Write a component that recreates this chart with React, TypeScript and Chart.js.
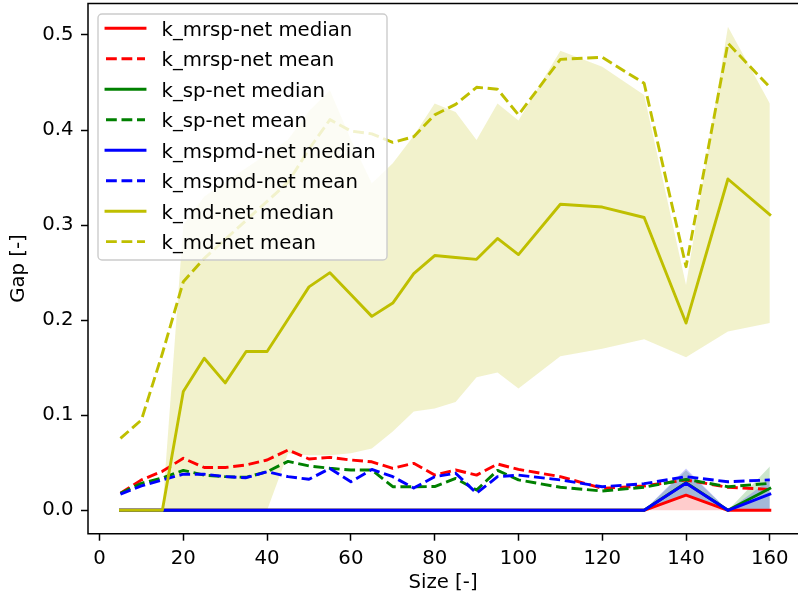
import React, { useEffect, useRef } from 'react';
import { Chart, registerables } from 'chart.js';

Chart.register(...registerables);

// ---------------- data ----------------
const sizes = [5, 10, 15, 20, 25, 30, 35, 40, 45, 50, 55, 60, 65, 70, 75, 80, 85, 90, 95, 100, 110, 120, 130, 140, 150, 160];

const mrspMedian = [0, 0, 0, 0, 0, 0, 0, 0, 0, 0, 0, 0, 0, 0, 0, 0, 0, 0, 0, 0, 0, 0, 0, 0.016, 0, 0];
const mrspMean = [0.018, 0.032, 0.041, 0.0547, 0.045, 0.045, 0.0477, 0.0529, 0.0634, 0.054, 0.0557, 0.0529, 0.051, 0.0442, 0.0494, 0.0371, 0.0424, 0.037, 0.0487, 0.043, 0.0354, 0.0231, 0.0256, 0.0319, 0.0242, 0.022];
const mrspLower = [0, 0, 0, 0, 0, 0, 0, 0, 0, 0, 0, 0, 0, 0, 0, 0, 0, 0, 0, 0, 0, 0, 0, 0, 0, 0];
const mrspUpper = [0, 0, 0, 0, 0, 0, 0, 0, 0, 0, 0, 0, 0, 0, 0, 0, 0, 0, 0, 0, 0, 0, 0, 0.017, 0, 0];

const spMedian = [0, 0, 0, 0, 0, 0, 0, 0, 0, 0, 0, 0, 0, 0, 0, 0, 0, 0, 0, 0, 0, 0, 0, 0.029, 0, 0.023];
const spMean = [0.018, 0.0284, 0.034, 0.042, 0.037, 0.0354, 0.0347, 0.0406, 0.0515, 0.0466, 0.0442, 0.0424, 0.0424, 0.0248, 0.0248, 0.025, 0.0335, 0.0214, 0.042, 0.032, 0.0242, 0.0203, 0.0242, 0.0326, 0.0248, 0.0284];
const spLower = [0, 0, 0, 0, 0, 0, 0, 0, 0, 0, 0, 0, 0, 0, 0, 0, 0, 0, 0, 0, 0, 0, 0, 0.016, 0, 0];
const spUpper = [0, 0, 0, 0, 0, 0, 0, 0, 0, 0, 0, 0, 0, 0, 0, 0, 0, 0, 0, 0, 0, 0, 0, 0.042, 0, 0.046];

const mspmdMedian = [0, 0, 0, 0, 0, 0, 0, 0, 0, 0, 0, 0, 0, 0, 0, 0, 0, 0, 0, 0, 0, 0, 0, 0.0284, 0, 0.017];
const mspmdMean = [0.017, 0.0256, 0.032, 0.038, 0.038, 0.0354, 0.0343, 0.0406, 0.0354, 0.0326, 0.044, 0.03, 0.043, 0.0354, 0.0234, 0.0354, 0.039, 0.018, 0.0354, 0.037, 0.032, 0.0248, 0.028, 0.0354, 0.03, 0.032];
const mspmdLower = [0, 0, 0, 0, 0, 0, 0, 0, 0, 0, 0, 0, 0, 0, 0, 0, 0, 0, 0, 0, 0, 0, 0, 0.016, 0, 0];
const mspmdUpper = [0, 0, 0, 0, 0, 0, 0, 0, 0, 0, 0, 0, 0, 0, 0, 0, 0, 0, 0, 0, 0, 0, 0, 0.044, 0, 0.032];

const mdMedian = [0, 0, 0, 0.125, 0.16, 0.134, 0.167, 0.167, 0.201, 0.235, 0.25, 0.227, 0.204, 0.218, 0.249, 0.268, 0.266, 0.264, 0.286, 0.269, 0.322, 0.319, 0.308, 0.197, 0.3485, 0.311];
const mdMean = [0.0757, 0.095, 0.165, 0.2405, 0.265, 0.285, 0.305, 0.325, 0.345, 0.38, 0.411, 0.399, 0.396, 0.387, 0.393, 0.416, 0.427, 0.445, 0.443, 0.416, 0.4744, 0.4765, 0.4492, 0.2563, 0.4913, 0.445];
const mdLower = [0, 0, 0, 0, 0, 0, 0, 0, 0.06, 0.058, 0.058, 0.06, 0.065, 0.083, 0.104, 0.107, 0.114, 0.14, 0.145, 0.128, 0.162, 0.17, 0.18, 0.161, 0.188, 0.197];
const mdUpper = [0, 0, 0, 0.3, 0.33, 0.345, 0.36, 0.375, 0.39, 0.42, 0.442, 0.39, 0.344, 0.365, 0.394, 0.428, 0.419, 0.3895, 0.428, 0.41, 0.4835, 0.4667, 0.4369, 0.237, 0.5087, 0.428];

const xTicks = [0, 20, 40, 60, 80, 100, 120, 140, 160];
const yTicks = [0, 0.1, 0.2, 0.3, 0.4, 0.5];

const legendLabels = [
  'k_mrsp-net median',
  'k_mrsp-net mean',
  'k_sp-net median',
  'k_sp-net mean',
  'k_mspmd-net median',
  'k_mspmd-net mean',
  'k_md-net median',
  'k_md-net mean',
];

// ---------------- styling ----------------
const W = 798;
const H = 603;
const FONT = "'DejaVu Sans'";
const FS = 19.7;
const LW = 2.9;
const DASH = [10.8, 4.7];
const RED = '#ff0000';
const GREEN = '#008000';
const BLUE = '#0000ff';
const YEL = '#bfbf00';
const legendColors = [RED, RED, GREEN, GREEN, BLUE, BLUE, YEL, YEL];

const PLOT_LEFT = 88;
const PLOT_TOP = 3.5;
const PLOT_BOTTOM = 533.7;

function pts(arr: number[]) {
  return sizes.map((x, i) => ({ x, y: arr[i] }));
}

function lineDs(label: string, arr: number[], color: string, dashed: boolean, order: number) {
  return {
    label,
    data: pts(arr),
    borderColor: color,
    backgroundColor: color,
    borderWidth: LW,
    borderDash: dashed ? DASH : [],
    borderCapStyle: dashed ? 'butt' : 'square',
    borderJoinStyle: 'round',
    pointRadius: 0,
    pointHoverRadius: 0,
    tension: 0,
    fill: false,
    order,
  };
}

function bandDs(arr: number[], fillColor: string, target: number | false, order: number) {
  return {
    label: '',
    data: pts(arr),
    borderWidth: 0,
    borderColor: 'rgba(0,0,0,0)',
    backgroundColor: fillColor,
    pointRadius: 0,
    pointHoverRadius: 0,
    tension: 0,
    fill: target === false ? false : { target },
    order,
  };
}

export default function App() {
  const ref = useRef<HTMLCanvasElement | null>(null);

  useEffect(() => {
    if (!ref.current) return;

    const framePlugin = {
      id: 'mplFrame',
      afterDatasetsDraw(chart: any) {
        const { ctx, chartArea } = chart;
        ctx.save();
        ctx.strokeStyle = '#000';
        ctx.lineWidth = 1.5;
        ctx.setLineDash([]);
        ctx.beginPath();
        ctx.moveTo(chartArea.right + 10, chartArea.top);
        ctx.lineTo(chartArea.left, chartArea.top);
        ctx.lineTo(chartArea.left, chartArea.bottom);
        ctx.lineTo(chartArea.right + 10, chartArea.bottom);
        ctx.stroke();
        ctx.restore();
      },
    };

    const legendPlugin = {
      id: 'mplLegend',
      afterDraw(chart: any) {
        const ctx = chart.ctx;
        const bx = 98, by = 14, bw = 289, bh = 246, r = 4;
        ctx.save();
        ctx.beginPath();
        ctx.moveTo(bx + r, by);
        ctx.lineTo(bx + bw - r, by);
        ctx.arcTo(bx + bw, by, bx + bw, by + r, r);
        ctx.lineTo(bx + bw, by + bh - r);
        ctx.arcTo(bx + bw, by + bh, bx + bw - r, by + bh, r);
        ctx.lineTo(bx + r, by + bh);
        ctx.arcTo(bx, by + bh, bx, by + bh - r, r);
        ctx.lineTo(bx, by + r);
        ctx.arcTo(bx, by, bx + r, by, r);
        ctx.closePath();
        ctx.fillStyle = 'rgba(255,255,255,0.8)';
        ctx.fill();
        ctx.strokeStyle = '#cccccc';
        ctx.lineWidth = 1.4;
        ctx.stroke();

        ctx.font = `${FS}px ${FONT}`;
        ctx.textBaseline = 'alphabetic';
        ctx.textAlign = 'left';
        legendLabels.forEach((lab, i) => {
          const cy = 28.3 + i * 30.48;
          ctx.beginPath();
          ctx.strokeStyle = legendColors[i];
          ctx.lineWidth = LW;
          const dashed = i % 2 === 1;
          ctx.setLineDash(dashed ? DASH : []);
          ctx.lineCap = dashed ? 'butt' : 'square';
          ctx.moveTo(106, cy);
          ctx.lineTo(145, cy);
          ctx.stroke();
          ctx.setLineDash([]);
          ctx.fillStyle = '#000';
          ctx.fillText(lab, 161.5, cy + 7.4);
        });
        ctx.restore();
      },
    };

    const datasets: any[] = [
      lineDs('k_md-net mean', mdMean, YEL, true, 0),
      lineDs('k_md-net median', mdMedian, YEL, false, 1),
      lineDs('k_mspmd-net mean', mspmdMean, BLUE, true, 2),
      lineDs('k_mspmd-net median', mspmdMedian, BLUE, false, 3),
      lineDs('k_sp-net mean', spMean, GREEN, true, 4),
      lineDs('k_sp-net median', spMedian, GREEN, false, 5),
      lineDs('k_mrsp-net mean', mrspMean, RED, true, 6),
      lineDs('k_mrsp-net median', mrspMedian, RED, false, 7),
      bandDs(mdUpper, 'rgba(191,191,0,0.2)', 9, 8),
      bandDs(mdLower, 'rgba(0,0,0,0)', false, 9),
      bandDs(mspmdUpper, 'rgba(0,0,255,0.2)', 11, 10),
      bandDs(mspmdLower, 'rgba(0,0,0,0)', false, 11),
      bandDs(spUpper, 'rgba(0,128,0,0.2)', 13, 12),
      bandDs(spLower, 'rgba(0,0,0,0)', false, 13),
      bandDs(mrspUpper, 'rgba(255,0,0,0.2)', 15, 14),
      bandDs(mrspLower, 'rgba(0,0,0,0)', false, 15),
    ];

    const xPxPerUnit = (770.3 - 100) / 160;
    const xMin = -2.75;
    const xMax = xMin + (W - PLOT_LEFT) / xPxPerUnit;
    const yPxPerUnit = (510.3 - 35) / 0.5;
    const yMax = (510.3 - PLOT_TOP) / yPxPerUnit;
    const yMin = (510.3 - PLOT_BOTTOM) / yPxPerUnit;

    const chart = new Chart(ref.current, {
      type: 'line',
      data: { datasets },
      plugins: [framePlugin, legendPlugin],
      options: {
        animation: false,
        responsive: false,
        maintainAspectRatio: false,
        devicePixelRatio: 1,
        events: [],
        layout: { padding: { top: PLOT_TOP, right: 0, left: 0, bottom: 0 } },
        plugins: {
          legend: { display: false },
          tooltip: { enabled: false },
          title: { display: false },
          filler: { drawTime: 'beforeDatasetsDraw', propagate: false },
        },
        scales: {
          x: {
            type: 'linear',
            min: xMin,
            max: xMax,
            afterBuildTicks: (axis: any) => {
              axis.ticks = xTicks.map((v) => ({ value: v }));
            },
            afterFit: (axis: any) => {
              axis.height = H - PLOT_BOTTOM;
              axis.paddingLeft = 0;
              axis.paddingRight = 0;
              axis.paddingTop = 0;
              axis.paddingBottom = 0;
            },
            grid: {
              display: true,
              drawOnChartArea: false,
              drawTicks: true,
              tickLength: 7,
              tickWidth: 1.5,
              tickColor: '#000',
              color: '#000',
            },
            border: { display: false },
            ticks: {
              color: '#000',
              font: { family: FONT, size: FS },
              padding: 6.2,
              maxRotation: 0,
              autoSkip: false,
              callback: (v: any) => String(v),
            },
            title: {
              display: true,
              text: 'Size [-]',
              color: '#000',
              font: { family: FONT, size: FS },
              padding: { top: 0, bottom: 8.3 },
            },
          },
          y: {
            type: 'linear',
            min: yMin,
            max: yMax,
            afterBuildTicks: (axis: any) => {
              axis.ticks = yTicks.map((v) => ({ value: v }));
            },
            afterFit: (axis: any) => {
              axis.width = PLOT_LEFT;
              axis.paddingLeft = 0;
              axis.paddingRight = 0;
              axis.paddingTop = 0;
              axis.paddingBottom = 0;
            },
            grid: {
              display: true,
              drawOnChartArea: false,
              drawTicks: true,
              tickLength: 7,
              tickWidth: 1.5,
              tickColor: '#000',
              color: '#000',
            },
            border: { display: false },
            ticks: {
              color: '#000',
              font: { family: FONT, size: FS },
              padding: 7.5,
              autoSkip: false,
              callback: (v: any) => Number(v).toFixed(1),
            },
            title: {
              display: true,
              text: 'Gap [-]',
              color: '#000',
              font: { family: FONT, size: FS },
              padding: { top: 7.3, bottom: 0 },
            },
          },
        },
      } as any,
    });

    return () => {
      chart.destroy();
    };
  }, []);

  return (
    <div style={{ position: 'fixed', left: 0, top: 0, width: W, height: H, background: '#fff' }}>
      <canvas ref={ref} width={W} height={H} style={{ width: W, height: H, display: 'block' }} />
    </div>
  );
}
